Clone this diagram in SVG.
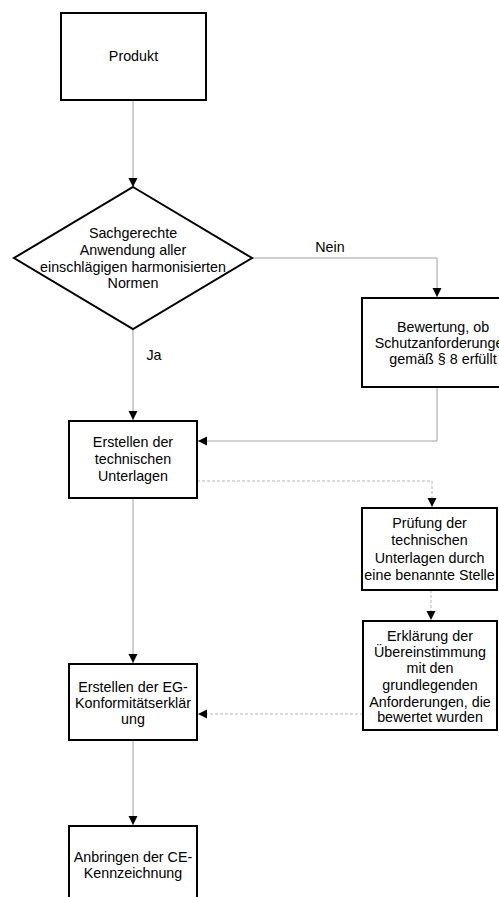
<svg xmlns="http://www.w3.org/2000/svg" width="499" height="897" viewBox="0 0 499 897">
<style>
.box{fill:#fff;stroke:#000;stroke-width:2}
.t{font-family:"Liberation Sans",Arial,sans-serif;font-size:14.3px;fill:#000;text-anchor:middle}
.c{fill:none;stroke:#a0a0a0;stroke-width:1}
.d{fill:none;stroke:#b4b4b4;stroke-width:1;stroke-dasharray:3,2}
</style>
<defs>
<marker id="ah" markerUnits="userSpaceOnUse" markerWidth="10" markerHeight="10" refX="9" refY="5" orient="auto">
<path d="M0,0.5 L9,5 L0,9.5 Z" fill="#000"/>
</marker>
</defs>
<rect width="499" height="897" fill="#fff"/>
<g id="connectors">
<path class="c" d="M133,100 V187" marker-end="url(#ah)"/>
<path class="c" d="M252,258 H437 V297" marker-end="url(#ah)"/>
<path class="c" d="M133,329 V420" marker-end="url(#ah)"/>
<path class="c" d="M437,387 V441 H198" marker-end="url(#ah)"/>
<path class="d" d="M197,481 H432 V507" marker-end="url(#ah)"/>
<path class="c" d="M133,498 V663" marker-end="url(#ah)"/>
<path class="d" d="M431,590 V620" marker-end="url(#ah)"/>
<path class="d" d="M363,714 H198" marker-end="url(#ah)"/>
<path class="c" d="M133,740 V825" marker-end="url(#ah)"/>
<text class="t" x="330" y="252">Nein</text>
<text class="t" x="154" y="360">Ja</text>
</g>
<g id="produkt">
<rect class="box" x="61" y="13" width="145" height="87"/>
<text class="t" x="133.5" y="61">Produkt</text>
</g>
<g id="entscheidung">
<path class="box" d="M133,187 L252,258 L133,329 L14,258 Z"/>
<text class="t" x="133" y="238">Sachgerechte</text>
<text class="t" x="133" y="255">Anwendung aller</text>
<text class="t" x="133" y="272">einschlägigen harmonisierten</text>
<text class="t" x="133" y="288">Normen</text>
</g>
<g id="bewertung">
<rect class="box" x="362" y="298" width="162" height="89"/>
<text class="t" x="443" y="332">Bewertung, ob</text>
<text class="t" x="443" y="348">Schutzanforderungen</text>
<text class="t" x="443" y="364">gemäß § 8 erfüllt</text>
</g>
<g id="unterlagen">
<rect class="box" x="69" y="421" width="128" height="77"/>
<text class="t" x="133" y="447">Erstellen der</text>
<text class="t" x="133" y="464">technischen</text>
<text class="t" x="133" y="481">Unterlagen</text>
</g>
<g id="pruefung">
<rect class="box" x="362" y="508" width="135" height="82"/>
<text class="t" x="429.5" y="528">Prüfung der</text>
<text class="t" x="429.5" y="545">technischen</text>
<text class="t" x="429.5" y="563">Unterlagen durch</text>
<text class="t" x="429.5" y="580">eine benannte Stelle</text>
</g>
<g id="erklaerung">
<rect class="box" x="363" y="621" width="134" height="109"/>
<text class="t" x="430" y="641">Erklärung der</text>
<text class="t" x="430" y="657">Übereinstimmung</text>
<text class="t" x="430" y="673">mit den</text>
<text class="t" x="430" y="690">grundlegenden</text>
<text class="t" x="430" y="707">Anforderungen, die</text>
<text class="t" x="430" y="722">bewertet wurden</text>
</g>
<g id="konformitaet">
<rect class="box" x="69" y="664" width="128" height="76"/>
<text class="t" x="133" y="692">Erstellen der EG-</text>
<text class="t" x="133" y="708">Konformitätserklär</text>
<text class="t" x="133" y="724">ung</text>
</g>
<g id="ce">
<rect class="box" x="69" y="826" width="128" height="78"/>
<text class="t" x="133" y="862">Anbringen der CE-</text>
<text class="t" x="133" y="878">Kennzeichnung</text>
</g>
</svg>
